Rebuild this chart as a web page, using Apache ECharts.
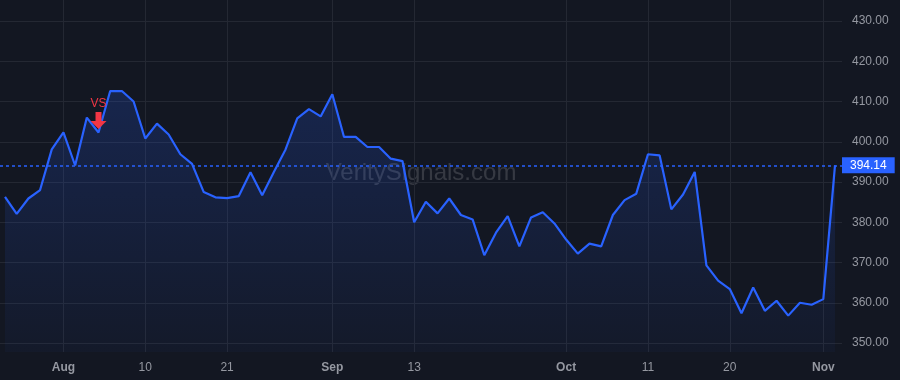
<!DOCTYPE html>
<html>
<head>
<meta charset="utf-8">
<script src="https://cdn.jsdelivr.net/npm/echarts@6/dist/echarts.min.js"></script>
<style>
  html, body { margin: 0; background: #131722; }
  #chart { width: 900px; height: 380px; }
</style>
</head>
<body>
<div id="chart"></div>
<script>
// trading days, Jul 25 - Nov 2 2023
const dates = [
  '2023-07-25', '2023-07-26', '2023-07-27', '2023-07-28', '2023-07-31',
  '2023-08-01', '2023-08-02', '2023-08-03', '2023-08-04', '2023-08-07', '2023-08-08', '2023-08-09', '2023-08-10',
  '2023-08-11', '2023-08-14', '2023-08-15', '2023-08-16', '2023-08-17', '2023-08-18', '2023-08-21', '2023-08-22',
  '2023-08-23', '2023-08-24', '2023-08-25', '2023-08-28', '2023-08-29', '2023-08-30', '2023-08-31',
  '2023-09-01', '2023-09-05', '2023-09-06', '2023-09-07', '2023-09-08', '2023-09-11', '2023-09-12', '2023-09-13',
  '2023-09-14', '2023-09-15', '2023-09-18', '2023-09-19', '2023-09-20', '2023-09-21', '2023-09-22', '2023-09-25',
  '2023-09-26', '2023-09-27', '2023-09-28', '2023-09-29',
  '2023-10-02', '2023-10-03', '2023-10-04', '2023-10-05', '2023-10-06', '2023-10-09', '2023-10-10', '2023-10-11',
  '2023-10-12', '2023-10-13', '2023-10-16', '2023-10-17', '2023-10-18', '2023-10-19', '2023-10-20', '2023-10-23',
  '2023-10-24', '2023-10-25', '2023-10-26', '2023-10-27', '2023-10-30', '2023-10-31',
  '2023-11-01', '2023-11-02'
];
const prices = [
  386.3, 382.1, 385.9, 388.0, 398.1,
  402.3, 394.1, 406.0, 402.3, 412.6, 412.6, 410.0, 400.8,
  404.5, 401.8, 396.9, 394.5, 387.5, 386.2, 386.0, 386.5,
  392.4, 386.7, 392.5, 398.1, 405.8, 408.1, 406.3,
  411.8, 401.2, 401.2, 398.7, 398.7, 395.8, 395.2, 380.0,
  385.1, 382.2, 385.9, 381.8, 380.7, 371.8, 377.4, 381.5,
  374.0, 381.2, 382.5, 379.7,
  375.7, 372.2, 374.7, 374.0, 381.8, 385.5, 387.1, 396.9,
  396.6, 383.2, 386.9, 392.5, 369.3, 365.5, 363.4, 357.4,
  363.8, 358.0, 360.5, 356.8, 360.0, 359.5,
  360.9, 394.14
];
const tickDates = ['2023-08-01', '2023-08-10', '2023-08-21', '2023-09-01', '2023-09-13', '2023-10-02', '2023-10-11', '2023-10-20', '2023-11-01'];
const tickLabels = ['Aug', '10', '21', 'Sep', '13', 'Oct', '11', '20', 'Nov'];
const signalDate = '2023-08-04';
const signalText = 'VS';

const chart = echarts.init(document.getElementById('chart'));
const font = "'Liberation Sans', Arial, sans-serif";
const lastPrice = prices[prices.length - 1];
const showTick = (i, v) => tickDates.indexOf(v) >= 0;

const option = {
  backgroundColor: '#131722',
  animation: false,
  textStyle: { fontFamily: font },
  grid: [
    { left: 5, right: 65, top: 0, bottom: 28 },   // data
    { left: 0, right: 58, top: 21, bottom: 37 }   // price scale
  ],
  graphic: [{
    type: 'text',
    x: 421, y: 173,
    silent: true,
    style: {
      text: 'VeritySignals.com',
      fill: 'rgba(255,255,255,0.15)',
      font: "24px 'Liberation Sans', Arial, sans-serif",
      textAlign: 'center',
      textVerticalAlign: 'middle'
    }
  }],
  xAxis: [
    {
      gridIndex: 0,
      type: 'category',
      data: dates,
      boundaryGap: false,
      axisLine: { show: false },
      axisTick: { show: false },
      axisLabel: {
        interval: showTick,
        margin: 10,
        formatter: v => {
          const t = tickLabels[tickDates.indexOf(v)];
          return isNaN(t) ? '{m|' + t + '}' : '{d|' + t + '}';
        },
        rich: {
          m: { color: '#9598a1', fontSize: 12, fontWeight: 'bold', fontFamily: font },
          d: { color: '#9598a1', fontSize: 12, fontFamily: font }
        }
      },
      splitLine: { show: true, interval: showTick, lineStyle: { color: '#242833', width: 1 } }
    },
    { gridIndex: 1, type: 'value', min: 0, max: 1, show: false }
  ],
  yAxis: [
    { gridIndex: 0, type: 'value', min: 347.764, max: 435.217, show: false, splitLine: { show: false } },
    {
      gridIndex: 1,
      type: 'value',
      position: 'right',
      min: 350,
      max: 430,
      interval: 10,
      axisLine: { show: false },
      axisTick: { show: false },
      axisLabel: { color: '#9598a1', fontSize: 12, margin: 10, formatter: v => v.toFixed(2) },
      splitLine: { lineStyle: { color: '#242833', width: 1 } }
    }
  ],
  series: [
    {
      type: 'line',
      xAxisIndex: 0,
      yAxisIndex: 0,
      data: prices,
      showSymbol: false,
      lineStyle: { color: '#2962ff', width: 2.2 },
      areaStyle: {
        color: new echarts.graphic.LinearGradient(0, 0, 0, 1, [
          { offset: 0, color: 'rgba(41,98,255,0.28)' },
          { offset: 1, color: 'rgba(41,98,255,0.05)' }
        ])
      },
      markPoint: {
        silent: true,
        data: [{
          coord: [signalDate, prices[dates.indexOf(signalDate)]],
          symbol: 'path://M5,0 L11,0 L11,9 L16,9 L8,17 L0,9 L5,9 Z',
          symbolSize: [16, 17],
          symbolOffset: [0, -12],
          itemStyle: { color: '#f23645' },
          label: { show: true, position: 'top', distance: 2, formatter: signalText, color: '#f23645', fontSize: 12 }
        }]
      }
    },
    {
      type: 'line',
      xAxisIndex: 1,
      yAxisIndex: 1,
      data: [[0, lastPrice]],
      showSymbol: false,
      color: '#2962ff',
      lineStyle: { width: 0 },
      markLine: {
        silent: true,
        symbol: 'none',
        lineStyle: { color: '#2962ff', type: [3, 3], width: 1.5, opacity: 1 },
        label: {
          position: 'end',
          distance: 0,
          formatter: lastPrice.toFixed(2),
          color: '#fff',
          backgroundColor: '#2962ff',
          fontSize: 12,
          padding: [2, 8, 2, 8]
        },
        data: [{ yAxis: lastPrice }]
      }
    }
  ]
};

chart.setOption(option);
</script>
</body>
</html>
